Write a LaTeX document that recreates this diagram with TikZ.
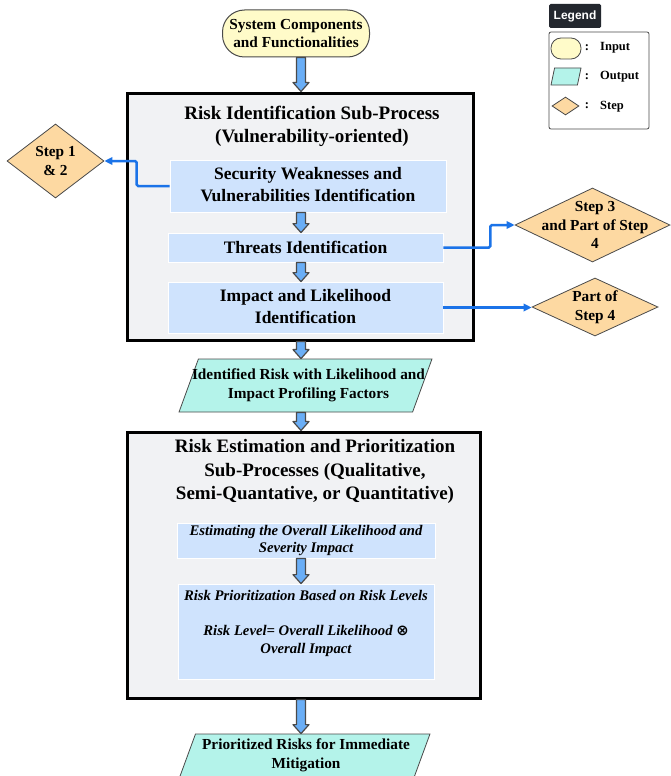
\documentclass[tikz,border=0pt]{standalone}
\usepackage{fontspec}
\setmainfont{Liberation Serif}
\newfontfamily\legsans{Liberation Sans}
\newfontfamily\opfont{DejaVu Sans}
\usetikzlibrary{shapes.geometric,arrows.meta,calc}

\definecolor{inyellow}{HTML}{FFFBC9}
\definecolor{boxgray}{HTML}{F1F2F4}
\definecolor{subblue}{HTML}{CFE3FD}
\definecolor{outteal}{HTML}{B4F3EA}
\definecolor{steporange}{HTML}{FDD9A2}
\definecolor{linkblue}{HTML}{1B73E8}
\definecolor{fatblue}{HTML}{6AAEF6}
\definecolor{edgegray}{HTML}{4A4A4A}
\definecolor{legdark}{HTML}{23272E}

\newcommand\fatarrow[2]{%
  \draw[fatarr] let \p1=(#1.south), \p2=(#2.north) in
    (296.5pt,\y1) -- (296.5pt,\y2+9pt) -- (293pt,\y2+9pt) -- (301pt,\y2)
    -- (309pt,\y2+9pt) -- (305.5pt,\y2+9pt) -- (305.5pt,\y1) -- cycle;}

\begin{document}
\begin{tikzpicture}[x=1pt,y=-1pt,
  titlefont/.style={font=\fontsize{19}{23.3}\selectfont\bfseries},
  subfont/.style={font=\fontsize{17.5}{21.5}\selectfont\bfseries},
  midfont/.style={font=\fontsize{15.3}{18.7}\selectfont\bfseries},
  itfont/.style={font=\fontsize{14.7}{17.5}\selectfont\bfseries\itshape},
  legfont/.style={font=\fontsize{12.5}{15}\selectfont\bfseries},
  bigbox/.style={draw=black, line width=3pt, fill=boxgray, inner sep=0pt},
  subbox/.style={draw=white, line width=0.8pt, fill=subblue, inner sep=0pt, align=center},
  inbox/.style={draw=edgegray, line width=1pt, fill=inyellow, rounded corners=22pt, inner sep=0pt, align=center, midfont},
  outbox/.style={draw=edgegray, line width=0.8pt, fill=outteal, trapezium, trapezium left angle=83, trapezium right angle=97, trapezium stretches=true, inner sep=0pt},
  stepbox/.style={draw=edgegray, line width=0.8pt, fill=steporange, diamond, inner sep=0pt},
  link/.style={draw=linkblue, line width=2.5pt, -{Triangle[length=8pt,width=7.5pt]}, rounded corners=1.5pt},
  fatarr/.style={draw=edgegray, line width=1.2pt, fill=fatblue, line join=round},
]
\useasboundingbox (0,0) rectangle (670,776);

% input
\node[inbox, minimum width=147pt, minimum height=47pt] (inp) at (296,33.5) {System Components\\and Functionalities};

% risk identification sub-process
\node[bigbox, minimum width=346pt, minimum height=247pt] (rip) at (300,216.5) {};
\node[titlefont, align=center] (ript) at (312,126.5) {Risk Identification Sub-Process\\(Vulnerability-oriented)};
\node[subbox, subfont, minimum width=276pt, minimum height=52pt] (sec) at (308,186) {Security Weaknesses and\\Vulnerabilities Identification\rule[-3pt]{0pt}{1pt}};
\node[subbox, subfont, minimum width=275pt, minimum height=29pt] (thr) at (305.5,247.5) {Threats Identification};
\node[subbox, subfont, minimum width=275pt, minimum height=51pt] (imp) at (305.5,307.5) {Impact and Likelihood\\Identification\rule[-2pt]{0pt}{1pt}};

% output 1
\node[outbox, minimum width=253pt, minimum height=53pt,
  label={[midfont,align=center,xshift=3pt]center:{Identified Risk with Likelihood and\\Impact Profiling Factors}}] (ir) at (305.5,385.5) {\phantom{M}};

% risk estimation
\node[bigbox, minimum width=353pt, minimum height=266pt] (rep) at (303.5,565) {};
\node[titlefont, align=center] (rept) at (315,471.5) {Risk Estimation and Prioritization\\Sub-Processes (Qualitative,\\Semi-Quantative, or Quantitative)};
\node[subbox, itfont, minimum width=258pt, minimum height=35pt] (est) at (306,540.5) {Estimating the Overall Likelihood and\\Severity Impact};
\node[subbox, minimum width=256pt, minimum height=95pt,
  label={[itfont,align=center,yshift=8pt]center:{Risk Prioritization Based on Risk Levels\\[17.5pt]Risk Level= Overall Likelihood {\opfont ⊗}\\Overall Impact}}] (pri) at (306,631.5) {};

% output 2
\node[outbox, minimum width=254pt, minimum height=53pt,
  label={[midfont,align=center,xshift=3pt,yshift=5pt]center:{Prioritized Risks for Immediate\\Mitigation}}] (prr) at (303,760.5) {\phantom{M}};

% steps
\node[stepbox, minimum width=97pt, minimum height=74pt,
  label={[midfont,align=center]center:{Step 1\\\& 2}}] (s12) at (55.5,161) {};
\node[stepbox, minimum width=155pt, minimum height=74pt,
  label={[midfont,align=center,xshift=2.5pt]center:{Step 3\\and Part of Step\\4}}] (s34) at (592.5,225) {};
\node[stepbox, minimum width=126pt, minimum height=58pt,
  label={[midfont,align=center]center:{Part of\\Step 4}}] (s4) at (595,307) {};

% links
\draw[link] (sec.west) -- ++(-33,0) |- (s12.east);
\draw[link] (thr.east) -- ++(47,0) |- (s34.west);
\draw[link] (imp.east) -- (imp.east -| s4.west);

% fat arrows
\fatarrow{inp}{rip}
\fatarrow{sec}{thr}
\fatarrow{thr}{imp}
\fatarrow{rip}{ir}
\fatarrow{ir}{rep}
\fatarrow{est}{pri}
\fatarrow{rep}{prr}

% legend
\node[fill=legdark, text=white, font=\legsans\fontsize{12}{14}\selectfont\bfseries, minimum width=52pt, minimum height=24pt, inner sep=0pt, rounded corners=1.5pt] (legt) at (575,16) {Legend};
\node[draw=edgegray, fill=white, line width=0.8pt, rounded corners=2pt, minimum width=100pt, minimum height=97pt, inner sep=0pt] (legb) at (599,80.5) {};
\node[draw=edgegray, fill=inyellow, line width=0.8pt, rounded corners=10pt, minimum width=30pt, minimum height=21pt, inner sep=0pt] (legin) at (566,48.5) {};
\node[outbox, minimum width=30pt, minimum height=17pt, trapezium left angle=78, trapezium right angle=102] (legout) at (566,76.5) {\phantom{M}};
\node[stepbox, minimum width=27pt, minimum height=18pt] (legstep) at (565.5,106) {};
\node[legfont] (c1) at (587,48) {:};
\node[legfont] (c2) at (587,77) {:};
\node[legfont] (c3) at (587,106) {:};
\node[legfont, anchor=west, inner sep=0pt] (lin) at (600,48) {Input};
\node[legfont, anchor=west, inner sep=0pt] (lout) at (600,77) {Output};
\node[legfont, anchor=west, inner sep=0pt] (lstep) at (600,106.5) {Step};
\end{tikzpicture}
\end{document}
